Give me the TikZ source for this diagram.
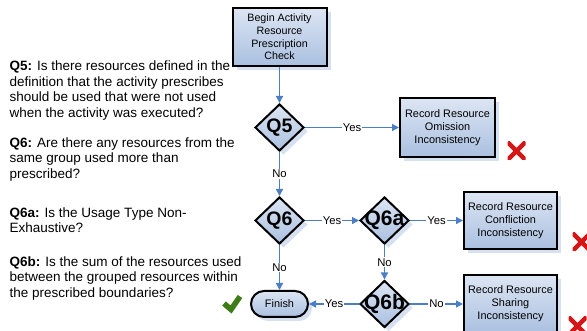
\documentclass[tikz,border=0pt]{standalone}
\usepackage{fontspec}
\setmainfont{Liberation Sans}
\usetikzlibrary{shapes.geometric,arrows.meta,shadows}
\definecolor{flowblue}{RGB}{74,126,199}
\definecolor{boxtop}{RGB}{220,229,243}
\definecolor{boxbot}{RGB}{170,192,224}
\definecolor{shadowblue}{RGB}{214,224,240}
\definecolor{xred}{RGB}{214,22,22}
\definecolor{checkgreen}{RGB}{62,124,22}
\tikzset{
  x=1pt, y=-1pt,
  shadowed/.style={general shadow={fill=shadowblue, shadow xshift=4pt, shadow yshift=-4pt}},
  procbox/.style={rectangle, draw=black, line width=2pt, top color=boxtop, bottom color=boxbot,
    shadowed, minimum width=94pt, minimum height=58pt, inner sep=0pt, align=center,
    font=\fontsize{10.9}{13}\selectfont},
  decision/.style={diamond, draw=black, line width=2pt, top color=boxtop, bottom color=boxbot,
    shadowed, minimum width=49pt, minimum height=47pt, inner sep=0pt},
  qlabel/.style={inner sep=0pt, font=\bfseries\fontsize{19.5}{22}\selectfont},
  qlabelbig/.style={inner sep=0pt, font=\bfseries\fontsize{21}{24}\selectfont},
  terminal/.style={rectangle, rounded corners=13pt, draw=black, line width=2pt, top color=boxtop,
    bottom color=boxbot, shadowed, minimum width=57pt, minimum height=26pt, inner sep=0pt,
    font=\fontsize{10.9}{13}\selectfont},
  flow/.style={draw=flowblue, line width=1.3pt, -{Triangle[length=7pt,width=7pt]}},
  lab/.style={fill=white, inner sep=1pt, text=black, font=\fontsize{11.3}{13}\selectfont},
  qtext/.style={anchor=north west, inner sep=0pt, align=left, font=\fontsize{13.5}{15.5}\selectfont},
  xmark/.style={minimum size=18pt, inner sep=0pt, path picture={
    \draw[xred, line width=4.5pt] (path picture bounding box.north west) -- (path picture bounding box.south east)
      (path picture bounding box.north east) -- (path picture bounding box.south west);}},
  checkmark/.style={minimum size=24pt, inner sep=0pt, path picture={
    \draw[checkgreen, line width=5.5pt, line join=miter]
      ([shift={(-8,0)}]path picture bounding box.center) --
      ([shift={(-1,6)}]path picture bounding box.center) --
      ([shift={(8,-7)}]path picture bounding box.center);}}
}
\begin{document}
\begin{tikzpicture}
\useasboundingbox (0,0) rectangle (587,331);
% left texts
\node[qtext] (t5) at (9.5,60.8) {\textbf{Q5:} Is there resources defined in the\\definition that the activity prescribes\\should be used that were not used\\when the activity was executed?};
\node[qtext] (t6) at (9.5,137.1) {\textbf{Q6:} Are there any resources from the\\same group used more than\\prescribed?};
\node[qtext] (t6a) at (9.5,207.4) {\textbf{Q6a:} Is the Usage Type Non-\\Exhaustive?};
\node[qtext] (t6b) at (9.5,256.1) {\textbf{Q6b:} Is the sum of the resources used\\between the grouped resources within\\the prescribed boundaries?};
% flowchart
\node[procbox, font=\fontsize{10.7}{12.7}\selectfont] (begin) at (279.5,37) {Begin Activity\\Resource\\Prescription\\Check};
\node[decision, label={[qlabel]center:Q5}] (q5) at (279.5,127.5) {};
\node[procbox, minimum width=95pt, minimum height=59pt] (omit) at (447.5,127.5) {Record Resource\\Omission\\Inconsistency};
\node[decision, label={[qlabel]center:Q6}] (q6) at (279.5,220.5) {};
\node[decision, label={[qlabelbig]center:Q6a}] (q6a) at (384.5,220.5) {};
\node[procbox, minimum width=93pt, minimum height=57pt] (confl) at (510.5,220.5) {Record Resource\\Confliction\\Inconsistency};
\node[terminal] (finish) at (279.5,304) {Finish};
\node[decision, label={[qlabelbig]center:Q6b}] (q6b) at (384.5,304) {};
\node[procbox, minimum width=93pt, minimum height=58pt] (share) at (510.5,304) {Record Resource\\Sharing\\Inconsistency};
% marks
\node[xmark] (x1) at (516.5,151) {};
\node[xmark] (x2) at (581.5,242) {};
\node[xmark] (x3) at (577.5,326) {};
\node[checkmark] (ok) at (232,303.5) {};
% connectors
\draw[flow] (begin) -- (q5);
\draw[flow] (q5) -- node[lab] {Yes} (omit);
\draw[flow] (q5) -- node[lab] {No} (q6);
\draw[flow] (q6) -- node[lab] {Yes} (q6a);
\draw[flow] (q6a) -- node[lab] {Yes} (confl);
\draw[flow] (q6) -- node[lab] {No} (finish);
\draw[flow] (q6a) -- node[lab] {No} (q6b);
\draw[flow] (q6b) -- node[lab] {Yes} (finish);
\draw[flow] (q6b) -- node[lab] {No} (share);
\end{tikzpicture}
\end{document}
